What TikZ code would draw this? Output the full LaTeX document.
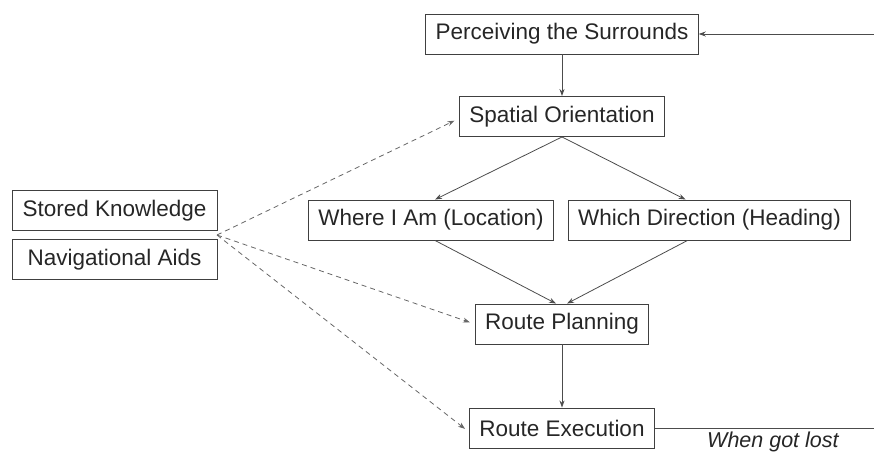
\documentclass[tikz,border=0pt]{standalone}
\usepackage{fontspec}
\setmainfont{Liberation Sans}
\usetikzlibrary{arrows.meta,calc}
\begin{document}
\begin{tikzpicture}[x=1pt,y=-1pt,
  box/.style={draw=black!75,line width=0.9pt,inner xsep=10pt,minimum height=40pt,text=black!85,font=\fontsize{22.5}{27}\selectfont},
  lbox/.style={box,minimum width=205pt},
  arr/.style={draw=black!70,line width=0.8pt,-{Stealth[length=7pt,width=5pt]}},
  darr/.style={draw=black!60,line width=0.8pt,dash pattern=on 5pt off 4pt,-{Stealth[length=7pt,width=5pt]},shorten >=5pt},
  fline/.style={draw=black!70,line width=0.9pt}]
\useasboundingbox (0,0) rectangle (874,452);
\node[box] (perc) at (562,34) {Perceiving the Surrounds};
\node[box] (spat) at (562,116.5) {Spatial Orientation};
\node[box] (where) at (431,220) {Where I Am (Location)};
\node[box] (which) at (709.5,220) {Which Direction (Heading)};
\node[lbox] (stored) at (114.5,210.5) {Stored Knowledge};
\node[lbox] (navaid) at (114.5,259.5) {Navigational Aids};
\node[box] (plan) at (562,324) {Route Planning};
\node[box] (exec) at (562,428) {Route Execution};
\coordinate (junc) at (217,235);
\coordinate (fr1) at (874,428);
\coordinate (fr2) at (874,34);
\node[anchor=base west,inner sep=0pt,text=black!85,font=\fontsize{21.5}{26}\selectfont\itshape] (lost) at (707,447) {When got lost};
% solid arrows
\draw[arr] (perc.south) -- (spat.north);
\draw[arr] (spat.south) -- ([xshift=4pt]where.north);
\draw[arr] (spat.south) -- ([xshift=-24pt]which.north);
\draw[arr] ([xshift=4pt]where.south) -- ([xshift=-6pt]plan.north);
\draw[arr] ([xshift=-22pt]which.south) -- ([xshift=5pt]plan.north);
\draw[arr] (plan.south) -- (exec.north);
% feedback
\draw[fline] (exec.east |- fr1) -- (fr1);
\draw[arr] (fr2) -- (perc.east);
% dashed
\draw[darr] (junc) -- ([yshift=-2pt]spat.west);
\draw[darr] (junc) -- (plan.west);
\draw[darr] (junc) -- ([yshift=-4pt]exec.west);
\end{tikzpicture}
\end{document}
